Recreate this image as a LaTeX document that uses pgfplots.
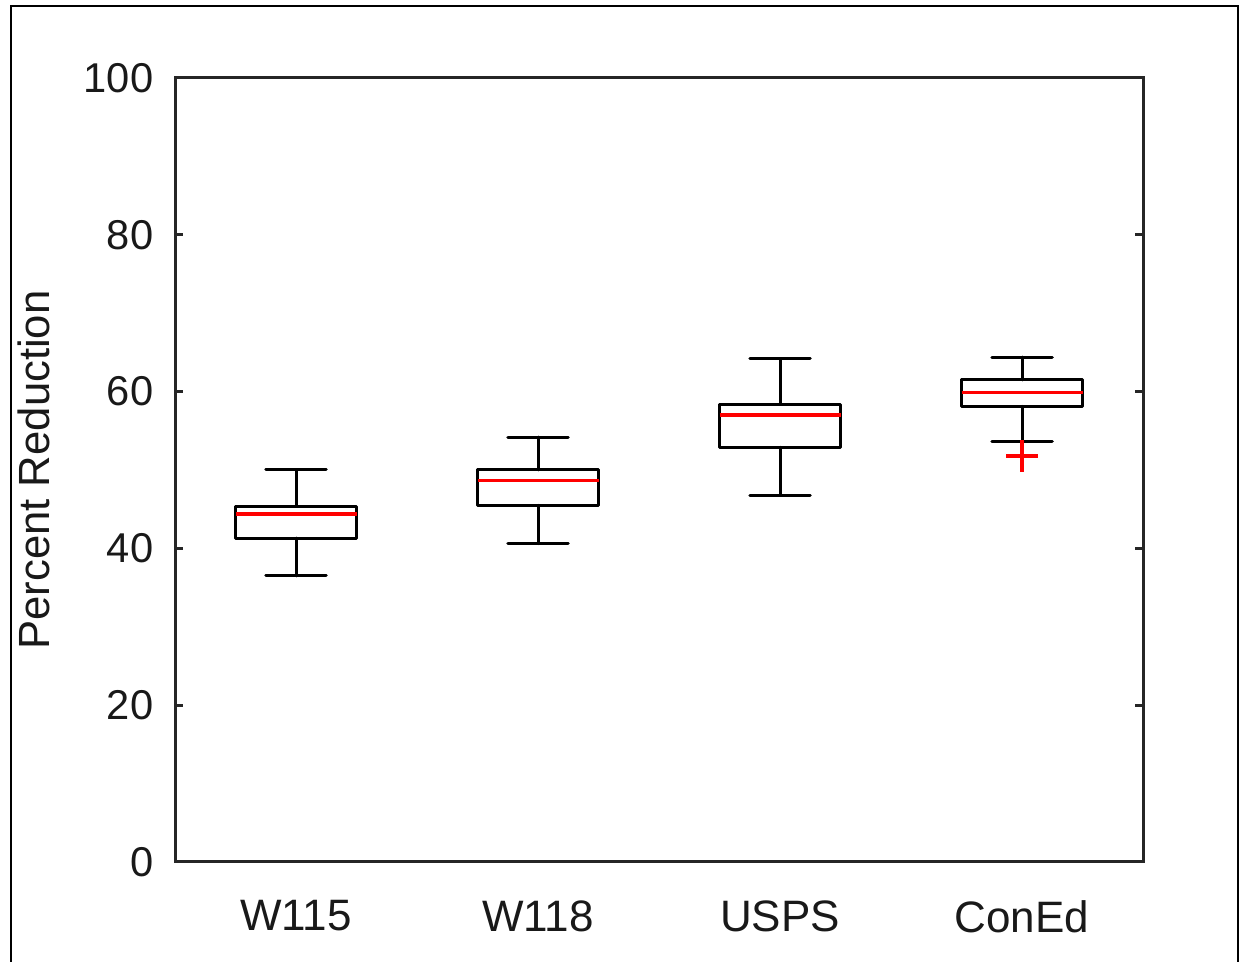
\documentclass[border=0pt]{standalone}
\usepackage{fontspec}
\setmainfont{Liberation Sans}
\usepackage{pgfplots}
\pgfplotsset{compat=1.18}
\begin{document}
\begin{tikzpicture}
\useasboundingbox (0,0) rectangle (372.3pt,288.6pt);
\draw[line width=0.5pt] (3.3pt,-2pt) -- (3.3pt,286.8pt) -- (371.4pt,286.8pt) -- (371.4pt,-2pt);
\begin{axis}[
  at={(52.5pt,30pt)}, anchor=south west,
  scale only axis, width=290.4pt, height=235.2pt,
  xmin=0.5, xmax=4.5, ymin=0, ymax=100,
  xtick={1,2,3,4}, xticklabels={W115,W118,USPS,ConEd},
  x tick style={draw=none},
  ytick={0,20,40,60,80,100},
  tick align=inside, major tick length=2.4pt,
  ytick pos=both, yticklabel pos=left,
  axis line style={line width=0.9pt, black!85},
  every tick/.style={line width=0.9pt, black!85},
  /pgf/number format/assume math mode=true,
  yticklabel style={font=\fontsize{12.5}{15}\selectfont, black!90, xshift=-3pt},
  xticklabel style={font=\fontsize{13.2}{15}\selectfont, black!90, yshift=-8pt},
  ylabel={Percent Reduction},
  ylabel style={font=\fontsize{13.1}{15}\selectfont, black!90, yshift=3.4pt},
  unbounded coords=jump,
  clip=false,
]
% whiskers and caps (W115, W118, USPS, ConEd)
\addplot[black, line width=0.9pt, line cap=round] coordinates {
 (0.875,50.0) (1.125,50.0) (1,nan) (1,50.0) (1,45.4) (1,nan) (1,41.3) (1,36.5) (1,nan) (0.875,36.5) (1.125,36.5) (1,nan)
 (1.875,54.2) (2.125,54.2) (2,nan) (2,54.2) (2,50.0) (2,nan) (2,45.5) (2,40.6) (2,nan) (1.875,40.6) (2.125,40.6) (2,nan)
 (2.875,64.2) (3.125,64.2) (3,nan) (3,64.2) (3,58.4) (3,nan) (3,52.9) (3,46.8) (3,nan) (2.875,46.8) (3.125,46.8) (3,nan)
 (3.875,64.4) (4.125,64.4) (4,nan) (4,64.4) (4,61.5) (4,nan) (4,58.1) (4,53.6) (4,nan) (3.875,53.6) (4.125,53.6)
};
% boxes (lower quartile to upper quartile)
\addplot[black, line width=0.9pt, line join=round] coordinates {(0.75,41.3) (1.25,41.3) (1.25,45.4) (0.75,45.4)} -- cycle;
\addplot[black, line width=0.9pt, line join=round] coordinates {(1.75,45.5) (2.25,45.5) (2.25,50.0) (1.75,50.0)} -- cycle;
\addplot[black, line width=0.9pt, line join=round] coordinates {(2.75,52.9) (3.25,52.9) (3.25,58.4) (2.75,58.4)} -- cycle;
\addplot[black, line width=0.9pt, line join=round] coordinates {(3.75,58.1) (4.25,58.1) (4.25,61.5) (3.75,61.5)} -- cycle;
% medians
\addplot[red, line width=1.0pt] coordinates {
 (0.75,44.4) (1.25,44.4) (1,nan) (1.75,48.7) (2.25,48.7) (2,nan)
 (2.75,57.0) (3.25,57.0) (3,nan) (3.75,59.85) (4.25,59.85)
};
% outlier
\addplot[only marks, mark=+, mark size=4.8pt, mark options={draw=red, line width=1.0pt}] coordinates {(4,51.8)};
\end{axis}
\end{tikzpicture}
\end{document}
